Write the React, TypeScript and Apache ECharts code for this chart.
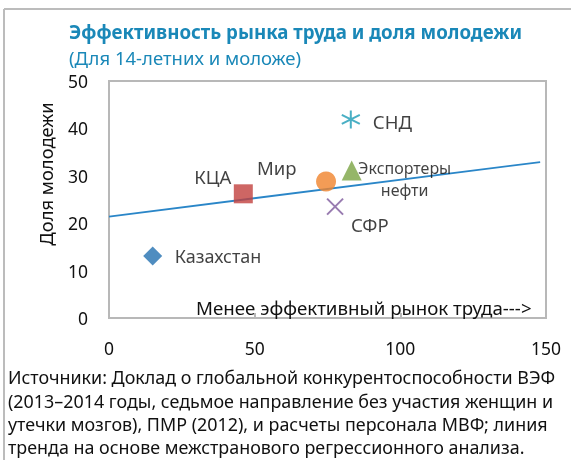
import React, { useEffect, useRef } from "react";
import * as echarts from "echarts";

const FONT = "Noto Sans";

const pointNames = ["Казахстан", "КЦА", "Мир", "Экспортеры\nнефти", "СНД", "СФР"];
const pointX = [15, 46.1, 74.5, 83.3, 83, 77.6];
const pointY = [13.1, 26.2, 28.8, 31.1, 41.9, 23.5];

const trendX = [0, 148];
const trendY = [21.4, 32.9];

const xTicks = [0, 50, 100, 150];
const yTicks = [0, 10, 20, 30, 40, 50];

const titleText = "Эффективность рынка труда и доля молодежи";
const subtitleText = "(Для 14-летних и моложе)";
const yAxisName = "Доля молодежи";
const xNote = "Менее эффективный рынок труда--->";
const footnoteLines = [
  "Источники: Доклад о глобальной конкурентоспособности ВЭФ",
  "(2013–2014 годы, седьмое направление без участия женщин и",
  "утечки мозгов), ПМР (2012), и расчеты персонала МВФ; линия",
  "тренда на основе межстранового регрессионного анализа.",
];

const App: React.FC = () => {
  const ref = useRef<HTMLDivElement>(null);
  useEffect(() => {
    if (!ref.current) return;
    const chart = echarts.init(ref.current, null, { renderer: "svg" });

    const styles = [
      { symbol: "diamond", size: 19, color: "#2370b0", stroke: false, offset: [22, 0], align: "left", fs: 18 },
      { symbol: "rect", size: 19, color: "#c2403d", stroke: false, offset: [-49, -17], align: "left", fs: 18.5 },
      { symbol: "circle", size: 20, color: "#f0832c", stroke: false, offset: [-69, -14], align: "left", fs: 18.5 },
      { symbol: "triangle", size: 20, color: "#7aa444", stroke: false, offset: [53, 8], align: "center", fs: 16 },
      { symbol: "path://M0,-10L0,10M-8.66,-5L8.66,5M-8.66,5L8.66,-5", size: 18, color: "#1b9bb5", stroke: true, offset: [22, 2], align: "left", fs: 18.5 },
      { symbol: "path://M-1,-1L1,1M-1,1L1,-1", size: 16, color: "#7e5a9c", stroke: true, offset: [16, 18], align: "left", fs: 18.5 },
    ];

    const pointSeries = pointNames.map((name, i) => {
      const s = styles[i];
      return {
        type: "scatter",
        name,
        symbol: s.symbol,
        symbolSize: s.size,
        z: 3,
        itemStyle: s.stroke
          ? { color: "rgba(0,0,0,0)", borderColor: s.color, borderWidth: 2 }
          : { color: s.color },
        label: {
          show: true,
          position: "inside",
          formatter: name,
          align: s.align,
          verticalAlign: "middle",
          offset: s.offset,
          color: "#111",
          fontSize: s.fs,
          fontFamily: FONT,
          lineHeight: 22,
        },
        data: [[pointX[i], pointY[i]]],
      };
    });

    chart.setOption({
      animation: false,
      textStyle: { fontFamily: FONT },
      grid: {
        left: 109,
        right: 25,
        top: 81,
        bottom: 142,
        show: true,
        borderColor: "#b8b8b8",
        borderWidth: 2,
        outerBoundsMode: "none",
        containLabel: false,
      },
      xAxis: {
        type: "value",
        min: 0,
        max: 150,
        interval: 50,
        axisLine: { show: false },
        axisTick: { show: true, inside: true, length: 5, lineStyle: { color: "#b8b8b8", width: 2 } },
        splitLine: { show: false },
        axisLabel: {
          margin: 21,
          fontSize: 17.5,
          color: "#111",
          fontFamily: FONT,
          formatter: (v: number) => (xTicks.includes(v) ? String(v) : ""),
        },
      },
      yAxis: {
        type: "value",
        min: 0,
        max: 50,
        interval: 10,
        axisLine: { show: false },
        axisTick: { show: false },
        splitLine: { show: false },
        axisLabel: {
          margin: 21,
          fontSize: 17.5,
          color: "#111",
          fontFamily: FONT,
          formatter: (v: number) => (yTicks.includes(v) ? String(v) : ""),
        },
      },
      series: [
        {
          type: "line",
          data: trendX.map((x, i) => [x, trendY[i]]),
          showSymbol: false,
          symbol: "none",
          lineStyle: { color: "#2a86c8", width: 1.8 },
          z: 2,
        },
        ...pointSeries,
      ],
      graphic: [
        {
          type: "line",
          shape: { x1: 4, y1: 9, x2: 571, y2: 9 },
          style: { stroke: "#bcbcbc", lineWidth: 2 },
        },
        {
          type: "line",
          shape: { x1: 4, y1: 9, x2: 4, y2: 460 },
          style: { stroke: "#bcbcbc", lineWidth: 2 },
        },
        {
          type: "text",
          x: 69,
          y: 31,
          style: { text: titleText, fontSize: 18.7, fontWeight: "bold", fill: "#1a88b8", fontFamily: FONT, verticalAlign: "middle" },
        },
        {
          type: "text",
          x: 69,
          y: 57,
          style: { text: subtitleText, fontSize: 18.5, fill: "#1a88b8", fontFamily: FONT, verticalAlign: "middle" },
        },
        {
          type: "text",
          x: 45,
          y: 174,
          rotation: Math.PI / 2,
          style: { text: yAxisName, fontSize: 18.4, fill: "#111", fontFamily: FONT, align: "center", verticalAlign: "middle" },
        },
        {
          type: "text",
          x: 196,
          y: 307,
          style: { text: xNote, fontSize: 18.7, fill: "#111", fontFamily: FONT, verticalAlign: "middle" },
        },
        {
          type: "text",
          x: 8,
          y: 365.5,
          style: {
            text: footnoteLines.join("\n"),
            fontSize: 17.9,
            lineHeight: 23.4,
            fill: "#111",
            fontFamily: FONT,
            verticalAlign: "top",
          },
        },
      ],
    });
    return () => chart.dispose();
  }, []);
  return (
    <div
      ref={ref}
      style={{ position: "fixed", left: 0, top: 0, width: 571, height: 460 }}
    />
  );
};

export default App;
